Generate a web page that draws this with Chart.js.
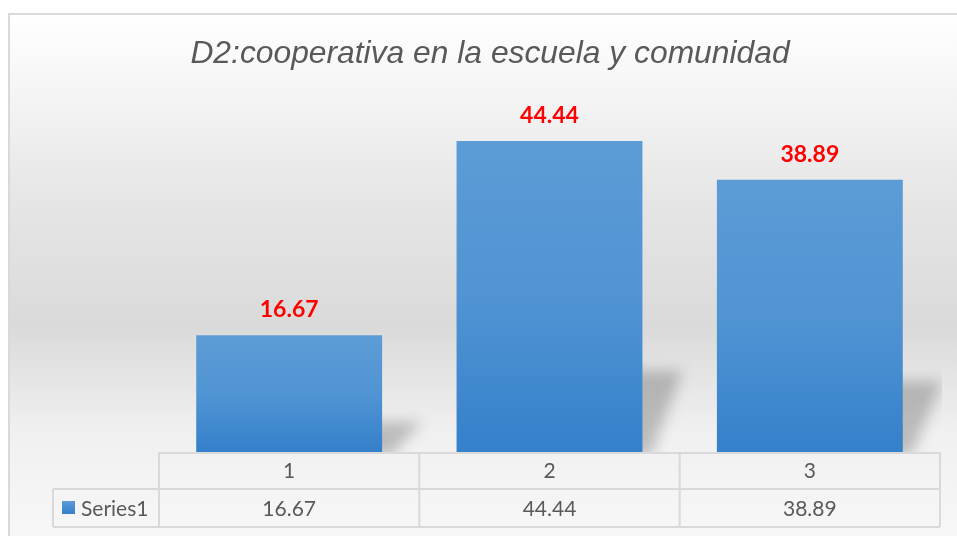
<!DOCTYPE html>
<html>
<head>
<meta charset="utf-8">
<script src="https://cdn.jsdelivr.net/npm/chart.js@4/dist/chart.umd.min.js"></script>
<style>
html,body{margin:0;padding:0;background:#fff;}
#wrap{position:relative;width:957px;height:536px;}
</style>
</head>
<body>
<div id="wrap"><canvas id="c" width="957" height="536"></canvas></div>
<script>
const categories = ['1', '2', '3'];
const seriesName = 'Series1';
const values = [16.67, 44.44, 38.89];
const valueLabels = ['16.67', '44.44', '38.89'];
const titleText = 'D2:cooperativa en la escuela y comunidad';

const textGray = '#595959';
const gridGray = '#d9d9d9';

const bgPlugin = {
  id: 'bg',
  beforeDraw(chart) {
    const ctx = chart.ctx;
    ctx.save();
    ctx.fillStyle = '#ffffff';
    ctx.fillRect(0, 0, chart.width, chart.height);
    const g = ctx.createLinearGradient(0, 13, 0, 536);
    g.addColorStop(0, '#ffffff');
    g.addColorStop(0.12, '#f7f7f7');
    g.addColorStop(0.35, '#e6e6e6');
    g.addColorStop(0.6, '#dadada');
    g.addColorStop(0.8, '#f0f0f0');
    g.addColorStop(1, '#f7f7f7');
    ctx.fillStyle = g;
    ctx.fillRect(8, 13, chart.width - 8, chart.height - 13);
    ctx.strokeStyle = '#d9d9d9';
    ctx.lineWidth = 2;
    ctx.strokeRect(9, 14, chart.width + 10, chart.height + 10);
    // title
    ctx.fillStyle = textGray;
    ctx.font = 'italic 31.8px "Liberation Sans", Arial, sans-serif';
    ctx.textAlign = 'center';
    ctx.textBaseline = 'alphabetic';
    ctx.fillText(titleText, 490, 63);
    ctx.restore();
  },
  beforeDatasetsDraw(chart) {
    const ctx = chart.ctx;
    const meta = chart.getDatasetMeta(0);
    const area = chart.chartArea;
    ctx.save();
    ctx.beginPath();
    ctx.rect(area.left, area.top, area.right - area.left + 2, area.bottom - area.top);
    ctx.clip();
    ctx.filter = 'blur(7px)';
    meta.data.forEach((bar) => {
      const left = bar.x - bar.width / 2;
      const right = bar.x + bar.width / 2;
      const bottom = bar.base;
      const h = (bar.base - bar.y) * 0.26;
      const dx = 40;
      ctx.fillStyle = 'rgba(0,0,0,0.22)';
      ctx.beginPath();
      ctx.moveTo(left + 10, bottom + 4);
      ctx.lineTo(right + 8, bottom + 4);
      ctx.lineTo(right + dx, bottom - h);
      ctx.lineTo(left + dx, bottom - h);
      ctx.closePath();
      ctx.fill();
    });
    ctx.restore();
  },
  afterDatasetsDraw(chart) {
    const ctx = chart.ctx;
    const meta = chart.getDatasetMeta(0);
    ctx.save();
    ctx.fillStyle = '#ff0000';
    ctx.font = 'bold 23px Lato, "Open Sans", sans-serif';
    ctx.textAlign = 'center';
    ctx.textBaseline = 'alphabetic';
    meta.data.forEach((bar, i) => {
      ctx.fillText(valueLabels[i], bar.x, bar.y - 18);
    });
    ctx.restore();
  },
  afterDraw(chart) {
    const ctx = chart.ctx;
    const x = chart.scales.x;
    const area = chart.chartArea;
    const top = area.bottom;
    const row1 = top + 37;
    const row2 = row1 + 38;
    const left = area.left;
    const right = area.right;
    const keyLeft = 53;
    const n = categories.length;
    const colW = (right - left) / n;
    ctx.save();
    ctx.strokeStyle = gridGray;
    ctx.lineWidth = 2;
    ctx.beginPath();
    ctx.moveTo(left, top + 1); ctx.lineTo(right, top + 1);
    ctx.moveTo(keyLeft, row1); ctx.lineTo(right, row1);
    ctx.moveTo(keyLeft, row2); ctx.lineTo(right, row2);
    ctx.moveTo(keyLeft, row1); ctx.lineTo(keyLeft, row2);
    for (let i = 0; i <= n; i++) {
      const xx = left + i * colW;
      ctx.moveTo(xx, top); ctx.lineTo(xx, row2);
    }
    ctx.stroke();
    ctx.fillStyle = textGray;
    ctx.font = '21px Lato, "Open Sans", sans-serif';
    ctx.textAlign = 'center';
    ctx.textBaseline = 'middle';
    categories.forEach((c, i) => {
      const cx = x.getPixelForValue(i);
      ctx.fillText(c, cx, (top + row1) / 2 + 1);
      ctx.fillText(valueLabels[i], cx, (row1 + row2) / 2 + 1);
    });
    const kg = ctx.createLinearGradient(0, row1 + 12, 0, row1 + 25);
    kg.addColorStop(0, '#5b9bd5');
    kg.addColorStop(1, '#3580cb');
    ctx.fillStyle = kg;
    ctx.fillRect(62, row1 + 12, 13, 13);
    ctx.fillStyle = textGray;
    ctx.textAlign = 'left';
    ctx.fillText(seriesName, 81, (row1 + row2) / 2 + 1);
    ctx.restore();
  }
};

const ctx = document.getElementById('c').getContext('2d');
new Chart(ctx, {
  type: 'bar',
  data: {
    labels: categories,
    datasets: [{
      label: seriesName,
      data: values,
      categoryPercentage: 1,
      barPercentage: 0.714,
      borderWidth: 0,
      backgroundColor(c) {
        const chart = c.chart;
        if (!chart.chartArea || c.raw === undefined) return '#4a8fd2';
        const y = chart.scales.y;
        const top = y.getPixelForValue(c.raw);
        const base = y.getPixelForValue(0);
        const g = chart.ctx.createLinearGradient(0, top, 0, base);
        g.addColorStop(0, '#5c9cd6');
        g.addColorStop(0.5, '#5094d3');
        g.addColorStop(1, '#3580cb');
        return g;
      }
    }]
  },
  options: {
    responsive: false,
    animation: false,
    devicePixelRatio: 1,
    layout: { padding: { left: 159, right: 17, top: 102, bottom: 84 } },
    scales: {
      x: { display: false, offset: true },
      y: { display: false, min: 0, max: 50 }
    },
    plugins: {
      legend: { display: false },
      tooltip: { enabled: false },
      title: { display: false }
    }
  },
  plugins: [bgPlugin]
});
</script>
</body>
</html>
